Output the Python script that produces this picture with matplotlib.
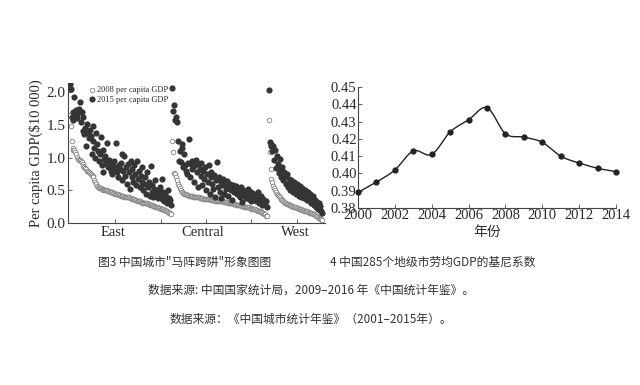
import numpy as np
import matplotlib
matplotlib.use("Agg")
import matplotlib.pyplot as plt

# ---------------- data ----------------
east_2008 = [1.65,1.48,1.25,1.14,1.12,1.11,1.08,1.05,1.01,0.98,
             0.97,0.96,0.95,0.93,0.90,0.87,0.85,0.84,0.82,0.80,
             0.79,0.78,0.76,0.75,0.73,0.72,0.70,0.66,0.62,0.59,
             0.56,0.55,0.54,0.53,0.53,0.52,0.52,0.51,0.51,0.50,
             0.50,0.50,0.49,0.49,0.48,0.48,0.47,0.47,0.46,0.46,
             0.45,0.45,0.44,0.44,0.43,0.43,0.42,0.42,0.41,0.41,
             0.40,0.40,0.40,0.39,0.39,0.39,0.38,0.38,0.37,0.37,
             0.36,0.36,0.35,0.35,0.34,0.34,0.33,0.33,0.32,0.32,
             0.31,0.31,0.31,0.30,0.30,0.30,0.29,0.29,0.28,0.28,
             0.27,0.27,0.26,0.26,0.25,0.25,0.24,0.24,0.23,0.23,
             0.22,0.22,0.21,0.21,0.20,0.20,0.19,0.18,0.17,0.16,
             0.15,0.14]
east_2015 = [2.13,2.05,1.62,1.70,1.58,1.93,1.65,1.72,1.60,1.68,
             1.75,1.85,1.55,1.70,1.40,1.62,1.36,1.45,1.17,1.52,
             1.38,1.30,1.42,1.33,1.05,1.48,1.25,1.15,1.00,1.38,
             1.20,1.10,0.95,1.05,1.32,0.88,1.12,0.78,0.98,1.02,
             0.92,1.22,0.85,0.96,0.88,0.80,0.90,0.75,0.83,0.95,
             0.86,1.23,0.78,0.70,0.88,0.82,0.92,0.65,1.05,0.80,
             1.03,0.72,0.85,0.60,0.90,0.78,0.52,0.95,0.70,0.82,
             0.62,0.88,0.75,0.58,0.95,0.68,0.80,0.55,0.72,0.63,
             0.85,0.50,0.60,0.70,0.45,0.78,0.55,0.62,0.42,0.87,
             0.48,0.58,0.40,0.52,0.65,0.44,0.50,0.38,0.47,0.55,
             0.42,0.68,0.36,0.48,0.33,0.45,0.40,0.30,0.50,0.38,
             0.35,0.28]
central_2008 = [1.25,1.08,0.77,0.75,0.70,0.65,0.60,0.56,0.53,0.50,
                0.48,0.47,0.46,0.45,0.44,0.44,0.43,0.43,0.42,0.42,
                0.41,0.41,0.41,0.40,0.40,0.40,0.40,0.39,0.39,0.39,
                0.38,0.38,0.38,0.38,0.37,0.37,0.37,0.37,0.36,0.36,
                0.36,0.36,0.35,0.35,0.35,0.35,0.35,0.34,0.34,0.34,
                0.34,0.34,0.33,0.33,0.33,0.33,0.33,0.32,0.32,0.32,
                0.32,0.31,0.31,0.31,0.30,0.30,0.30,0.29,0.29,0.29,
                0.28,0.28,0.28,0.27,0.27,0.27,0.26,0.26,0.26,0.25,
                0.25,0.25,0.24,0.24,0.24,0.23,0.23,0.22,0.22,0.22,
                0.21,0.21,0.20,0.20,0.19,0.19,0.18,0.18,0.17,0.16,
                0.15,0.14,0.13,0.11,0.10]
central_2015 = [2.07,1.71,1.80,1.57,1.62,1.55,1.25,0.95,1.10,0.93,
                1.20,1.15,0.85,1.05,0.88,0.80,0.75,0.92,1.28,0.70,
                0.90,0.82,0.95,0.85,0.62,0.88,0.97,0.78,0.55,0.90,
                0.83,0.72,0.92,0.58,0.80,0.68,0.86,0.50,0.75,0.63,
                0.88,0.45,0.70,0.78,0.60,0.52,0.73,0.40,0.66,0.93,
                0.55,0.70,0.48,0.62,0.38,0.58,0.67,0.45,0.60,0.52,
                0.64,0.42,0.57,0.60,0.50,0.55,0.35,0.58,0.47,0.53,
                0.56,0.44,0.52,0.49,0.40,0.55,0.46,0.32,0.50,0.43,
                0.48,0.38,0.45,0.52,0.36,0.42,0.47,0.34,0.40,0.44,
                0.37,0.45,0.33,0.40,0.48,0.30,0.38,0.35,0.42,0.28,
                0.36,0.32,0.27,0.34,0.25]
west_2008 = [1.57,1.09,0.83,0.68,0.62,0.57,0.53,0.50,0.47,0.45,
             0.43,0.41,0.39,0.37,0.36,0.35,0.33,0.32,0.31,0.30,
             0.29,0.29,0.28,0.27,0.27,0.26,0.26,0.25,0.25,0.24,
             0.24,0.23,0.23,0.22,0.22,0.21,0.21,0.20,0.20,0.19,
             0.19,0.18,0.18,0.17,0.17,0.16,0.16,0.15,0.15,0.14,
             0.13,0.12,0.11,0.10,0.09,0.08,0.07,0.06,0.06,0.05]
west_2015 = [2.04,1.24,1.20,1.17,1.10,1.18,0.96,1.12,0.84,1.02,
             0.90,0.76,0.98,0.82,0.70,0.86,0.65,0.78,0.72,0.60,
             0.75,0.55,0.68,0.62,0.50,0.66,0.58,0.48,0.63,0.55,
             0.45,0.60,0.52,0.42,0.57,0.48,0.40,0.53,0.45,0.38,
             0.50,0.42,0.35,0.47,0.40,0.33,0.44,0.30,0.38,0.42,
             0.28,0.35,0.25,0.32,0.22,0.30,0.20,0.26,0.18,0.15]
regions = ["East", "Central", "West"]
region_start = [0, 113, 219]   # city index where each region begins
left_yticks = [0.0, 0.5, 1.0, 1.5, 2.0]

years = [2000,2001,2002,2003,2004,2005,2006,2007,2008,2009,2010,2011,2012,2013,2014]
gini = [0.389,0.395,0.402,0.413,0.411,0.424,0.431,0.438,0.423,0.421,0.418,0.410,0.406,0.403,0.401]
right_xticks = [2000,2002,2004,2006,2008,2010,2012,2014]
right_yticks = [0.38,0.39,0.40,0.41,0.42,0.43,0.44,0.45]

captions = ['图3 中国城市"马阵跨阱"形象图图',
            "4 中国285个地级市劳均GDP的基尼系数",
            "数据来源: 中国国家统计局，2009–2016 年《中国统计年鉴》。",
            "数据来源：《中国城市统计年鉴》（2001–2015年）。"]

# ---------------- figure ----------------
W, H = 640, 385
fig = plt.figure(figsize=(W/100, H/100), dpi=100)
fig.patch.set_facecolor("white")
serif = "Liberation Serif"
cjk = ["Noto Sans CJK SC", "DejaVu Sans"]
ink = "#2a2a2a"

def ax_rect(x0, x1, ytop, ybot):
    return [x0/W, 1-ybot/H, (x1-x0)/W, (ybot-ytop)/H]

# ---- left scatter ----
ax1 = fig.add_axes(ax_rect(68, 325, 83, 223))
series08 = [east_2008, central_2008, west_2008]
series15 = [east_2015, central_2015, west_2015]
for st, s08, s15 in zip(region_start, series08, series15):
    x = np.arange(len(s08)) + st
    ax1.scatter(x, s08, s=11, facecolor="white", edgecolor="#808080", linewidth=0.6, zorder=2)
    ax1.scatter(x, s15, s=20, color="#353535", linewidth=0, zorder=3)
ax1.set_xlim(-2, 281)
ax1.set_ylim(0, 2.14)
ax1.set_yticks(left_yticks)
ax1.set_yticklabels([f"{v:.1f}" for v in left_yticks], fontfamily=serif, fontsize=11, color=ink)
ax1.set_xticks([50, 100, 150, 200, 250])
ax1.set_xticklabels([])
ax1.tick_params(direction="in", length=3, width=0.6, pad=2, color="#444444")
for sp in ["top", "right"]:
    ax1.spines[sp].set_visible(False)
for sp in ["left", "bottom"]:
    ax1.spines[sp].set_linewidth(0.8)
    ax1.spines[sp].set_color("#444444")
ax1.set_ylabel("Per capita GDP($10 000)", fontfamily=serif, fontsize=10.5, labelpad=2, color=ink)
centers = [113, 203, 295]
for name, cx in zip(regions, centers):
    fig.text(cx/W, 1-232/H, name, ha="center", va="center", fontfamily=serif, fontsize=10.5, color=ink)
# legend
ax1.scatter([], [], s=11, facecolor="white", edgecolor="#808080", linewidth=0.6, label="2008 per capita GDP")
ax1.scatter([], [], s=20, color="#353535", linewidth=0, label="2015 per capita GDP")
leg = ax1.legend(loc="upper left", bbox_to_anchor=((88-68)/257, 1-(86-83)/140), frameon=False,
                 prop={"family": serif, "size": 6.0}, handletextpad=0.1, borderpad=0,
                 labelspacing=0.2, handlelength=1.0, borderaxespad=0)
for t_ in leg.get_texts():
    t_.set_color(ink)

# ---- right line ----
ax2 = fig.add_axes(ax_rect(358, 616, 87, 208))
xs = np.array(years, float)
ys = np.array(gini, float)
# Catmull-Rom smoothing for the drawn curve
px = np.concatenate([[2*xs[0]-xs[1]], xs, [2*xs[-1]-xs[-2]]])
py = np.concatenate([[2*ys[0]-ys[1]], ys, [2*ys[-1]-ys[-2]]])
cx_, cy_ = [], []
t = np.linspace(0, 1, 20, endpoint=False)
for i in range(1, len(px)-2):
    for arr, out in ((px, cx_), (py, cy_)):
        p0, p1, p2, p3 = arr[i-1], arr[i], arr[i+1], arr[i+2]
        out.extend(0.5*((2*p1) + (-p0+p2)*t + (2*p0-5*p1+4*p2-p3)*t**2 + (-p0+3*p1-3*p2+p3)*t**3))
cx_.append(xs[-1]); cy_.append(ys[-1])
ax2.plot(cx_, cy_, color="#222222", lw=1.0, zorder=2, clip_on=False)
ax2.plot(xs, ys, "o", color="#222222", ms=3.5, zorder=3, clip_on=False)
ax2.set_xlim(2000, 2014)
ax2.set_ylim(0.38, 0.45)
ax2.set_xticks(right_xticks)
ax2.set_xticklabels([str(v) for v in right_xticks], fontfamily=serif, fontsize=10.5, color=ink)
ax2.set_yticks(right_yticks)
ax2.set_yticklabels([f"{v:.2f}" for v in right_yticks], fontfamily=serif, fontsize=10.5, color=ink)
ax2.tick_params(direction="in", length=3, width=0.6, pad=1, color="#444444")
for sp in ["top", "right"]:
    ax2.spines[sp].set_visible(False)
for sp in ["left", "bottom"]:
    ax2.spines[sp].set_linewidth(0.8)
    ax2.spines[sp].set_color("#444444")
fig.text(487/W, 1-232/H, "年份", ha="center", va="center", family=cjk, fontsize=10, color=ink)

# ---- captions ----
cap_pos = [(98, 262), (330, 262), (148, 290), (170, 319)]
for txt, (x, y) in zip(captions, cap_pos):
    fig.text(x/W, 1-y/H, txt, ha="left", va="center", family=cjk, fontsize=8.5, color="#333333")

fig.savefig("out.png", dpi=100, facecolor="white")
